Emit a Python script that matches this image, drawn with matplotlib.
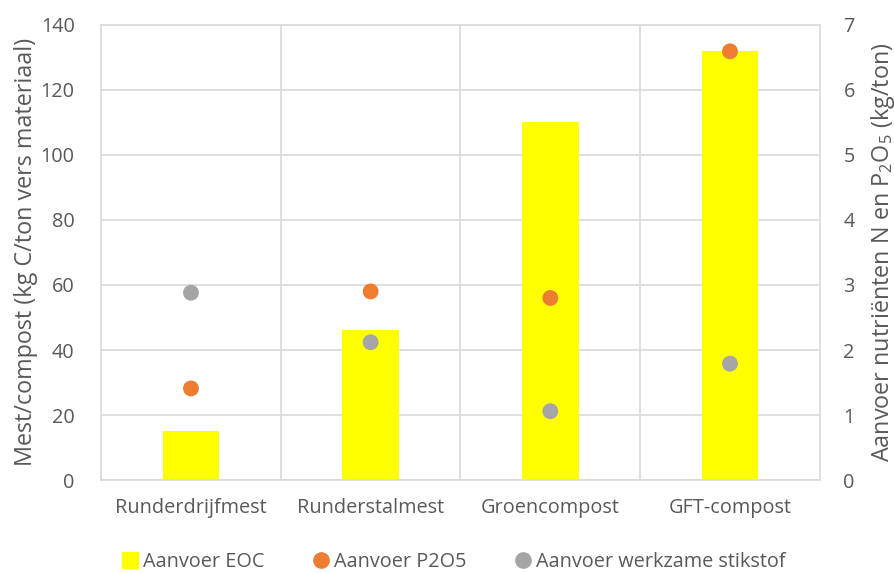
import matplotlib
matplotlib.use("Agg")
import matplotlib.pyplot as plt
import numpy as np
from matplotlib.lines import Line2D

plt.rcParams['font.family'] = ['Open Sans', 'DejaVu Sans']
plt.rcParams['mathtext.fontset'] = 'custom'
plt.rcParams['mathtext.rm'] = 'Open Sans'
plt.rcParams['mathtext.it'] = 'Open Sans'

categories = ["Runderdrijfmest", "Runderstalmest", "Groencompost", "GFT-compost"]
eoc = [15, 46, 110, 132]            # kg C/ton vers materiaal
p2o5 = [1.41, 2.90, 2.80, 6.59]      # kg/ton
stikstof = [2.88, 2.12, 1.06, 1.79]  # kg/ton

left_ticks = [0, 20, 40, 60, 80, 100, 120, 140]
right_ticks = [0, 1, 2, 3, 4, 5, 6, 7]

txt = '#595959'
grid_c = '#d9d9d9'
yellow = '#FFFF00'
orange = '#ED7D31'
grey = '#A5A5A5'

fig = plt.figure(figsize=(8.95, 5.73), dpi=100)
ax = fig.add_axes([0.113, 0.162, 0.803, 0.795])
x = np.arange(len(categories))

ax.bar(x, eoc, width=0.315, color=yellow, zorder=2)
ax.set_xlim(-0.5, len(categories) - 0.5)
ax.set_ylim(0, 140)
ax.set_yticks(left_ticks)
ax.set_xticks(x)
ax.set_xticklabels(categories)
ax.set_xticks(np.arange(0.5, len(categories) - 0.5, 1), minor=True)
ax.grid(axis='y', color=grid_c, lw=1.2, zorder=0)
ax.grid(axis='x', which='minor', color=grid_c, lw=1.2, zorder=0)
ax.tick_params(axis='both', which='both', length=0, colors=txt, labelsize=14.3)
ax.tick_params(axis='x', pad=13)
ax.tick_params(axis='y', pad=19)
for s in ax.spines.values():
    s.set_color(grid_c)
    s.set_linewidth(1.2)
ax.set_ylabel("Mest/compost (kg C/ton vers materiaal)", color=txt, fontsize=16.8, labelpad=2)

ax2 = ax.twinx()
ax2.set_ylim(0, 7)
ax2.set_yticks(right_ticks)
ax2.scatter(x, p2o5, s=130, color=orange, zorder=3, edgecolors='none')
ax2.scatter(x, stikstof, s=130, color=grey, zorder=3, edgecolors='none')
ax2.tick_params(axis='y', length=0, colors=txt, labelsize=14.3, pad=17)
for s in ax2.spines.values():
    s.set_visible(False)
ax2.set_ylabel("Aanvoer nutriënten N en P$_2$O$_5$ (kg/ton)", color=txt, fontsize=16.8, labelpad=10)

handles = [
    Line2D([], [], marker='s', ls='none', color=yellow, markersize=11),
    Line2D([], [], marker='o', ls='none', color=orange, markersize=11),
    Line2D([], [], marker='o', ls='none', color=grey, markersize=11),
]
labels = ["Aanvoer EOC", "Aanvoer P2O5", "Aanvoer werkzame stikstof"]
fig.legend(handles, labels, loc='center', bbox_to_anchor=(0.507, 0.019), ncol=3,
           frameon=False, fontsize=14.3, labelcolor=txt, handletextpad=0.3,
           columnspacing=2.4, handlelength=0.8)

fig.savefig("out.png", dpi=100)
